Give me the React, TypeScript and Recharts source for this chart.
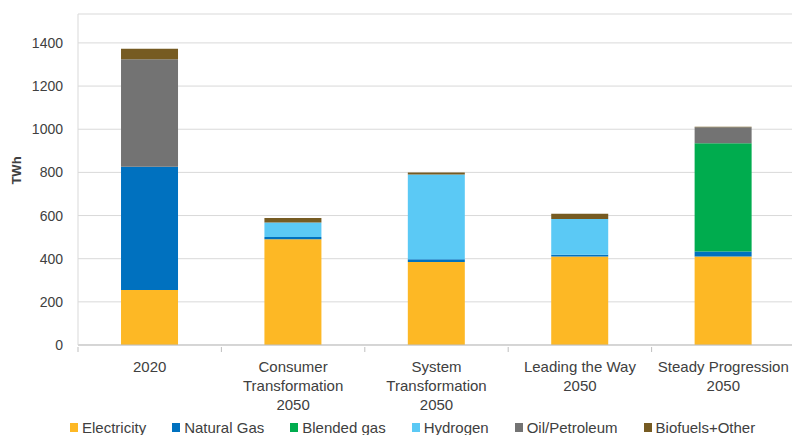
import React from 'react';
import {
  BarChart,
  Bar,
  XAxis,
  YAxis,
  CartesianGrid,
  Legend,
} from 'recharts';

const CATEGORIES = [
  '2020',
  'Consumer\nTransformation\n2050',
  'System\nTransformation\n2050',
  'Leading the Way\n2050',
  'Steady Progression\n2050',
];

const ELECTRICITY = [255, 490, 385, 410, 410];
const NATURAL_GAS = [571, 10, 12, 8, 23];
const BLENDED_GAS = [0, 0, 0, 0, 502];
const HYDROGEN = [0, 68, 393, 166, 0];
const OIL_PETROLEUM = [498, 0, 0, 0, 74];
const BIOFUELS_OTHER = [49, 20, 10, 24, 3];

const Y_TICKS = [0, 200, 400, 600, 800, 1000, 1200, 1400];

const SERIES = [
  { key: 'electricity', name: 'Electricity', color: '#FDB825' },
  { key: 'naturalGas', name: 'Natural Gas', color: '#0071BF' },
  { key: 'blendedGas', name: 'Blended gas', color: '#00AC4E' },
  { key: 'hydrogen', name: 'Hydrogen', color: '#5BC9F5' },
  { key: 'oil', name: 'Oil/Petroleum', color: '#737373' },
  { key: 'biofuels', name: 'Biofuels+Other', color: '#765B22' },
];

const chartData = CATEGORIES.map((label, i) => ({
  label,
  electricity: ELECTRICITY[i],
  naturalGas: NATURAL_GAS[i],
  blendedGas: BLENDED_GAS[i],
  hydrogen: HYDROGEN[i],
  oil: OIL_PETROLEUM[i],
  biofuels: BIOFUELS_OTHER[i],
}));

const FONT = '"Liberation Sans", Arial, sans-serif';
const TEXT_COLOR = '#404040';

// multi-line category label + tick mark on the left edge of the category
const CategoryTick = (props: any) => {
  const { x, y, payload } = props;
  const half = payload?.offset || 71.7;
  const lines = String(payload.value).split('\n');
  const axisY = y - 6;
  return (
    <g>
      <line x1={x - half} y1={axisY} x2={x - half} y2={axisY + 5} stroke="#BFBFBF" />
      <text
        x={x}
        y={axisY + 25}
        textAnchor="middle"
        fill={TEXT_COLOR}
        fontSize={15}
        fontFamily={FONT}
      >
        {lines.map((ln, i) => (
          <tspan key={i} x={x} dy={i === 0 ? 0 : 19}>
            {ln}
          </tspan>
        ))}
      </text>
    </g>
  );
};

const YLabel = (props: any) => {
  const vb = props.viewBox || { x: 0, y: 14, height: 331 };
  const cx = vb.x + 16;
  const cy = vb.y + vb.height / 2 - 9;
  return (
    <text
      x={cx}
      y={cy}
      transform={`rotate(-90, ${cx}, ${cy})`}
      textAnchor="middle"
      dominantBaseline="central"
      fontSize={13}
      fontWeight="bold"
      fontFamily={FONT}
      fill={TEXT_COLOR}
    >
      TWh
    </text>
  );
};

const LegendContent = () => (
  <div
    style={{
      display: 'flex',
      alignItems: 'center',
      paddingLeft: 70,
      paddingTop: 12,
      fontFamily: FONT,
      fontSize: 15,
      color: TEXT_COLOR,
      whiteSpace: 'nowrap',
    }}
  >
    {SERIES.map((s) => (
      <div key={s.key} style={{ display: 'flex', alignItems: 'center', marginRight: 26 }}>
        <span
          style={{ display: 'inline-block', width: 8, height: 9, background: s.color, marginRight: 4 }}
        />
        <span>{s.name}</span>
      </div>
    ))}
  </div>
);

export default function App() {
  return (
    <div style={{ position: 'absolute', left: 0, top: 0, width: 792, height: 435, overflow: 'hidden', background: '#fff' }}>
      <BarChart
        width={796}
        height={435}
        data={chartData}
        margin={{ top: 14, right: 1, left: 0, bottom: 0 }}
        barCategoryGap="30%"
      >
        <CartesianGrid horizontal vertical={false} stroke="#D9D9D9" />
        <XAxis
          dataKey="label"
          height={62}
          interval={0}
          tickLine={false}
          axisLine={{ stroke: '#BFBFBF' }}
          tick={<CategoryTick />}
        />
        <YAxis
          width={78}
          domain={[0, 1534]}
          ticks={Y_TICKS}
          allowDataOverflow
          tickLine={false}
          tickSize={6}
          tickMargin={9}
          axisLine={{ stroke: '#D9D9D9' }}
          tick={{ fill: TEXT_COLOR, fontSize: 14, fontFamily: FONT }}
          label={<YLabel />}
        />
        <Legend
          verticalAlign="bottom"
          align="left"
          content={<LegendContent />}
          wrapperStyle={{ left: 0, width: 792, height: 28 }}
        />
        {SERIES.map((s) => (
          <Bar
            key={s.key}
            dataKey={s.key}
            name={s.name}
            stackId="a"
            fill={s.color}
            isAnimationActive={false}
          />
        ))}
      </BarChart>
    </div>
  );
}
